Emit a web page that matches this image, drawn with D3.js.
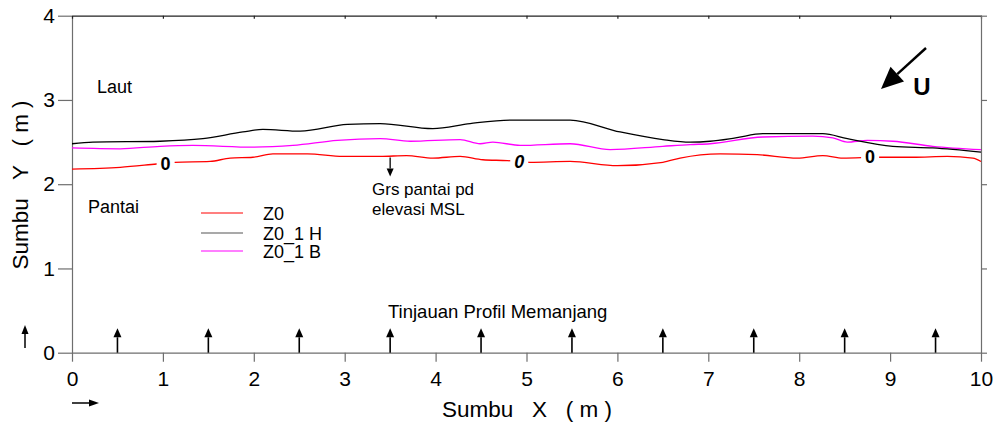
<!DOCTYPE html>
<html>
<head>
<meta charset="utf-8">
<script src="https://cdn.jsdelivr.net/npm/d3@7"></script>
<style>
  html, body { margin: 0; padding: 0; background: #fff; }
  svg { display: block; font-family: "Liberation Sans", Arial, sans-serif; }
  text { white-space: pre; }
</style>
</head>
<body>
<svg id="chart" width="1000" height="426"></svg>
<script>
// Shoreline contour (elevation 0) for three surveys, distance along shore X (m) vs offshore Y (m)
const z0X   = [0, 0.53, 0.93, 1.13, 1.52, 1.74, 1.99, 2.21, 2.59, 2.98, 3.39, 3.68, 3.97, 4.27, 4.52, 4.79, 5.04, 5.48, 6.00, 6.50, 6.69, 7.13, 7.54, 7.98, 8.26, 8.48, 8.89, 9.25, 9.63, 9.91, 10];
const z0Y   = [2.18, 2.20, 2.24, 2.26, 2.27, 2.31, 2.32, 2.36, 2.36, 2.33, 2.33, 2.34, 2.31, 2.33, 2.29, 2.28, 2.26, 2.27, 2.22, 2.26, 2.31, 2.36, 2.35, 2.31, 2.34, 2.31, 2.32, 2.32, 2.33, 2.31, 2.27];

const z0HX  = [0, 0.23, 0.97, 1.44, 1.88, 2.10, 2.51, 3.03, 3.39, 3.97, 4.38, 4.82, 5.48, 6.03, 6.50, 6.80, 7.02, 7.30, 7.60, 8.26, 8.53, 9.03, 9.47, 10];
const z0HY  = [2.48, 2.50, 2.51, 2.54, 2.62, 2.65, 2.63, 2.71, 2.72, 2.66, 2.72, 2.76, 2.76, 2.62, 2.53, 2.50, 2.51, 2.55, 2.60, 2.60, 2.54, 2.45, 2.43, 2.38];

const z0BX  = [0, 0.53, 0.97, 1.33, 1.99, 2.43, 2.92, 3.39, 3.72, 4.27, 4.49, 4.63, 4.93, 5.48, 5.92, 6.50, 6.80, 7.02, 7.60, 8.15, 8.37, 8.53, 8.75, 9.03, 9.47, 10];
const z0BY  = [2.43, 2.42, 2.45, 2.46, 2.44, 2.46, 2.52, 2.54, 2.51, 2.53, 2.48, 2.50, 2.46, 2.48, 2.41, 2.45, 2.47, 2.48, 2.56, 2.57, 2.55, 2.50, 2.52, 2.51, 2.45, 2.41];

// Contour value labels placed on the Z0 line
const labelX     = [1.03, 4.92, 8.78];
const labelY     = [2.246, 2.265, 2.33];
const labelItal  = [false, true, false];

// Long-profile survey stations along the shore
const profileX   = [0.5, 1.5, 2.5, 3.5, 4.5, 5.5, 6.5, 7.5, 8.5, 9.5];
const profileLen = 0.29;

const xTicks = [0, 1, 2, 3, 4, 5, 6, 7, 8, 9, 10];
const yTicks = [0, 1, 2, 3, 4];

const seriesNames  = ["Z0", "Z0_1 H", "Z0_1 B"];
const seriesColors = ["#ff0000", "#000000", "#ff00ff"];

const svg = d3.select("#chart");
const x = d3.scaleLinear().domain([0, 10]).range([72, 981]);
const y = d3.scaleLinear().domain([0, 4]).range([352.7, 15.7]);

// frame axes
const axisColor = "#6e6e6e";
function styleAxis(g, color) {
  g.selectAll("path.domain").attr("stroke", color).attr("stroke-width", 1.2);
  g.selectAll(".tick line").attr("stroke", color).attr("stroke-width", 1.2);
}

const gx = svg.append("g").attr("transform", `translate(0,${y(0)})`)
  .call(d3.axisBottom(x).tickValues(xTicks).tickSize(9).tickSizeOuter(0).tickPadding(9).tickFormat(d3.format("d")));
gx.selectAll("text").attr("font-size", 21).attr("fill", "#000").attr("font-family", "Liberation Sans, Arial, sans-serif");
styleAxis(gx, axisColor);

const gy = svg.append("g").attr("transform", `translate(${x(0)},0)`)
  .call(d3.axisLeft(y).tickValues(yTicks).tickSize(14).tickSizeOuter(0).tickPadding(3).tickFormat(d3.format("d")));
gy.selectAll("text").attr("font-size", 21).attr("fill", "#000").attr("font-family", "Liberation Sans, Arial, sans-serif");
styleAxis(gy, axisColor);

const gt = svg.append("g").attr("transform", `translate(0,${y(4)})`)
  .call(d3.axisTop(x).tickValues(xTicks).tickSize(-3).tickSizeOuter(0).tickFormat(""));
styleAxis(gt, "#222");

const gr = svg.append("g").attr("transform", `translate(${x(10)},0)`)
  .call(d3.axisRight(y).tickValues(yTicks).tickSize(6).tickSizeOuter(0).tickFormat(""));
styleAxis(gr, axisColor);

// shoreline contours
const line = d3.line().x(d => x(d[0])).y(d => y(d[1])).curve(d3.curveMonotoneX);
const series = [
  { xs: z0X,  ys: z0Y,  color: seriesColors[0] },
  { xs: z0HX, ys: z0HY, color: seriesColors[1] },
  { xs: z0BX, ys: z0BY, color: seriesColors[2] }
];
series.slice().reverse().forEach(s => {
  svg.append("path")
    .datum(s.xs.map((v, i) => [v, s.ys[i]]))
    .attr("fill", "none")
    .attr("stroke", s.color)
    .attr("stroke-width", 1.3)
    .attr("d", line);
});

// contour labels with a break in the line behind them
labelX.forEach((lx, i) => {
  svg.append("rect")
    .attr("x", x(lx) - 9).attr("y", y(labelY[i]) - 8)
    .attr("width", 18).attr("height", 16)
    .attr("fill", "#fff");
  svg.append("text")
    .attr("x", x(lx)).attr("y", y(labelY[i]))
    .attr("dy", "0.36em")
    .attr("text-anchor", "middle")
    .attr("font-size", 18)
    .attr("font-weight", "bold")
    .attr("font-style", labelItal[i] ? "italic" : "normal")
    .text("0");
});

// arrow helper: shaft plus filled triangular head
function arrow(x1, y1, x2, y2, headLen, headW, sw) {
  const ang = Math.atan2(y2 - y1, x2 - x1);
  const bx = x2 - headLen * Math.cos(ang), by = y2 - headLen * Math.sin(ang);
  svg.append("line").attr("x1", x1).attr("y1", y1).attr("x2", bx).attr("y2", by)
    .attr("stroke", "#000").attr("stroke-width", sw);
  const px = -Math.sin(ang) * headW / 2, py = Math.cos(ang) * headW / 2;
  svg.append("path")
    .attr("d", `M${x2},${y2}L${bx + px},${by + py}L${bx - px},${by - py}Z`)
    .attr("fill", "#000");
}

// survey profile arrows
profileX.forEach(px => arrow(x(px), y(0), x(px), y(profileLen), 9, 8, 1.6));

// shoreline at MSL pointer
arrow(x(3.5), y(2.33) + 1, x(3.5), y(2.33) + 20, 8, 7, 1.3);

// north/U direction arrow
arrow(926, 48, 881, 89, 22, 20, 2.4);
svg.append("text").attr("x", 922).attr("y", 95).attr("text-anchor", "middle")
  .attr("font-size", 24).attr("font-weight", "bold").text("U");

// small orientation arrows beside the axes
arrow(25, 348, 25, 325, 9, 7, 1.5);
arrow(72, 403, 99, 403, 10, 7, 1.5);

// annotations
const fs = 18;
svg.append("text").attr("x", 97).attr("y", 93).attr("font-size", fs).text("Laut");
svg.append("text").attr("x", 88).attr("y", 213).attr("font-size", fs).text("Pantai");
svg.append("text").attr("x", 372).attr("y", 195).attr("font-size", 17).text("Grs pantai pd");
svg.append("text").attr("x", 372).attr("y", 215).attr("font-size", 17).text("elevasi MSL");
svg.append("text").attr("x", 388).attr("y", 318).attr("font-size", 18.5).text("Tinjauan Profil Memanjang");

// legend
const legY = [213, 233, 251];
seriesNames.forEach((n, i) => {
  svg.append("line").attr("x1", 201).attr("x2", 243).attr("y1", legY[i]).attr("y2", legY[i])
    .attr("stroke", i === 1 ? "#555" : seriesColors[i]).attr("stroke-width", 1.2);
  svg.append("text").attr("x", 263).attr("y", legY[i] + 6.5).attr("font-size", fs).text(n);
});

// axis titles
svg.append("text").attr("x", 527).attr("y", 417).attr("text-anchor", "middle")
  .attr("font-size", 22.5).text("Sumbu   X   ( m )");
svg.append("text").attr("transform", "translate(28,185) rotate(-90)").attr("text-anchor", "middle")
  .attr("font-size", 22.5).text("Sumbu   Y   ( m )");
</script>
</body>
</html>
